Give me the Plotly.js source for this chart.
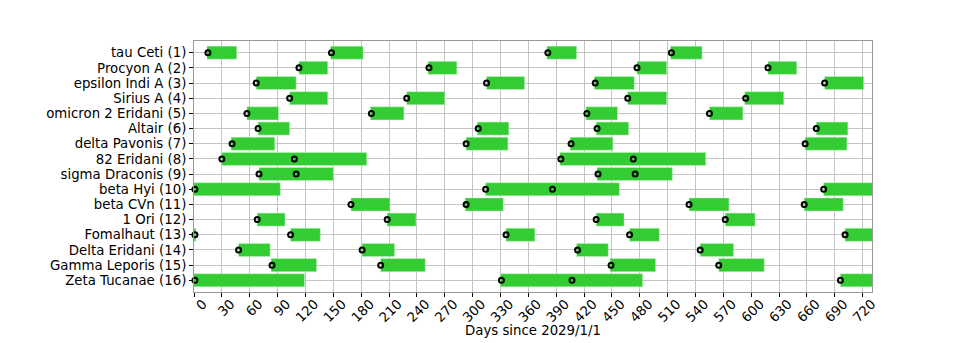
<!DOCTYPE html>
<html>
<head>
<meta charset="utf-8">
<script src="https://cdn.plot.ly/plotly-3.0.1.min.js"></script>
<style>
  body { margin: 0; background: #fff; }
  #chart { width: 969px; height: 343px; }
</style>
</head>
<body>
<div id="chart"></div>
<script>
// star names, top to bottom
var stars = [
    'tau Ceti (1)', 'Procyon A (2)', 'epsilon Indi A (3)', 'Sirius A (4)',
    'omicron 2 Eridani (5)', 'Altair (6)', 'delta Pavonis (7)', '82 Eridani (8)',
    'sigma Draconis (9)', 'beta Hyi (10)', 'beta CVn (11)', '1 Ori (12)',
    'Fomalhaut (13)', 'Delta Eridani (14)', 'Gamma Leporis (15)', 'Zeta Tucanae (16)'
];

// observing windows (days since 2029/1/1), one list per star
var winStart = [
    [14, 147, 380, 513],
    [113, 252, 477, 618],
    [67, 315, 431, 679],
    [103, 229, 467, 593],
    [57, 190, 422, 555],
    [69, 305, 433, 670],
    [40, 293, 405, 658],
    [30, 394],
    [70, 434],
    [0, 314, 678],
    [169, 292, 533, 657],
    [68, 208, 433, 572],
    [0, 104, 336, 469, 701],
    [48, 181, 412, 545],
    [83, 201, 448, 565],
    [0, 330, 696]
];
var winEnd = [
    [46, 182, 412, 547],
    [144, 283, 509, 649],
    [110, 356, 474, 721],
    [144, 270, 509, 635],
    [91, 226, 456, 591],
    [103, 339, 468, 704],
    [87, 338, 451, 703],
    [186, 551],
    [150, 515],
    [93, 458, 735],
    [211, 333, 576, 699],
    [98, 239, 463, 604],
    [2, 136, 367, 501, 735],
    [82, 216, 446, 581],
    [132, 249, 497, 614],
    [119, 483, 735]
];

// marked days
var markDays = [
    [15, 148, 381, 514],
    [113, 253, 477, 618],
    [67, 315, 432, 679],
    [103, 229, 467, 594],
    [57, 191, 423, 555],
    [69, 306, 434, 670],
    [41, 293, 406, 658],
    [30, 108, 395, 473],
    [70, 110, 435, 475],
    [1, 314, 386, 678],
    [169, 293, 533, 657],
    [68, 208, 433, 572],
    [1, 104, 336, 469, 701],
    [48, 181, 413, 545],
    [84, 201, 449, 565],
    [1, 331, 407, 696]
];

var xTicks = [];
for (var t = 0; t <= 720; t += 30) xTicks.push(t);

var barY = [], barBase = [], barLen = [];
var dotY = [], dotX = [];
stars.forEach(function (s, i) {
    winStart[i].forEach(function (st, j) {
        barY.push(s);
        barBase.push(st);
        barLen.push(winEnd[i][j] - st);
    });
    markDays[i].forEach(function (d) {
        dotY.push(s);
        dotX.push(d);
    });
});

var windowsTrace = {
    type: 'bar',
    orientation: 'h',
    y: barY,
    base: barBase,
    x: barLen,
    width: 0.86,
    marker: {
        color: '#33cc33',
        line: { color: 'rgba(200,245,200,0.8)', width: 0.6 }
    },
    hoverinfo: 'skip',
    showlegend: false
};

var dotsTrace = {
    type: 'scatter',
    mode: 'markers',
    y: dotY,
    x: dotX,
    marker: {
        symbol: 'circle-open',
        size: 5,
        color: '#000',
        line: { color: '#000', width: 2 }
    },
    cliponaxis: false,
    showlegend: false
};

var layout = {
    width: 969,
    height: 343,
    margin: { l: 193.5, r: 96.7, t: 40.7, b: 51.3 },
    paper_bgcolor: '#fff',
    plot_bgcolor: '#fff',
    barmode: 'overlay',
    font: { family: 'DejaVu Sans', size: 13.3, color: '#000' },
    xaxis: {
        range: [0, 730],
        tickvals: xTicks,
        tickangle: -45,
        ticklabelshift: 9,
        ticklabelstandoff: -6,
        ticks: 'outside',
        ticklen: 4,
        tickcolor: '#000',
        showgrid: true,
        gridcolor: '#c4c4c4',
        gridwidth: 1,
        zeroline: false,
        showline: true,
        linecolor: '#999',
        linewidth: 1,
        mirror: true,
        automargin: false
    },
    yaxis: {
        type: 'category',
        categoryorder: 'array',
        categoryarray: stars,
        tickmode: 'linear',
        tick0: 0,
        dtick: 1,
        range: [15.77, -0.77],
        ticks: 'outside',
        ticklen: 4,
        tickcolor: '#000',
        showgrid: true,
        gridcolor: '#c4c4c4',
        gridwidth: 1,
        zeroline: false,
        showline: true,
        linecolor: '#999',
        linewidth: 1,
        mirror: true,
        automargin: false
    },
    annotations: [{
        text: 'Days since 2029/1/1',
        xref: 'paper', yref: 'paper',
        x: 0.5, y: -0.153,
        xanchor: 'center', yanchor: 'middle',
        showarrow: false,
        font: { size: 13.3 }
    }]
};

Plotly.newPlot('chart', [windowsTrace, dotsTrace], layout, { displayModeBar: false, staticPlot: true });
</script>
</body>
</html>
